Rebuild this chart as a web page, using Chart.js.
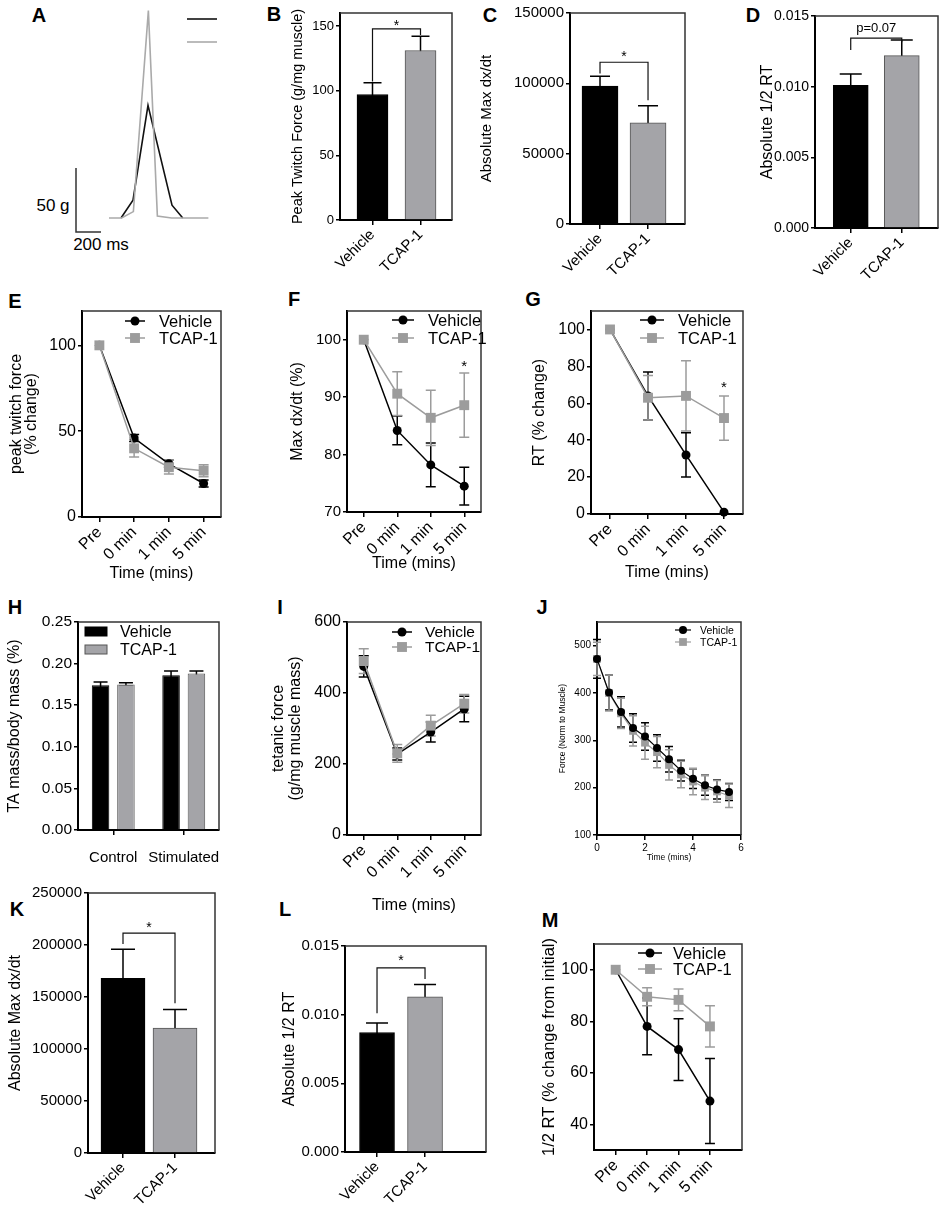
<!DOCTYPE html>
<html><head><meta charset="utf-8">
<script src="https://cdn.jsdelivr.net/npm/chart.js@4.4.1/dist/chart.umd.min.js"></script>
<style>
html,body{margin:0;padding:0;background:#fff;}
body{position:relative;width:941px;height:1214px;overflow:hidden;font-family:"Liberation Sans",Arial,Helvetica,sans-serif;color:#000;}
.pl{position:absolute;font-weight:bold;font-size:20px;line-height:1;transform:translate(-50%,-50%);}
.tx{position:absolute;font-size:17px;line-height:1;transform:translate(-50%,-50%);white-space:nowrap;}
</style></head><body>
<div class="pl" style="left:39px;top:15px">A</div>
<div class="pl" style="left:274px;top:14px">B</div>
<div class="pl" style="left:490px;top:15px">C</div>
<div class="pl" style="left:753px;top:15px">D</div>
<div class="pl" style="left:15px;top:301px">E</div>
<div class="pl" style="left:294px;top:299px">F</div>
<div class="pl" style="left:533px;top:299px">G</div>
<div class="pl" style="left:15px;top:607px">H</div>
<div class="pl" style="left:280px;top:607px">I</div>
<div class="pl" style="left:542px;top:607px">J</div>
<div class="pl" style="left:17px;top:909px">K</div>
<div class="pl" style="left:285px;top:909px">L</div>
<div class="pl" style="left:550px;top:920px">M</div>
<div class="tx" style="left:53px;top:205px">50 g</div>
<div class="tx" style="left:101px;top:244px">200 ms</div>
<script>
// ---------------- DATA ----------------
const groups = ['Vehicle', 'TCAP-1'];
const timeLabels = ['Pre', '0 min', '1 min', '5 min'];

// A: representative twitch traces (ms, g) and scale bar (200 ms / 50 g)
const A_timeVeh = [96, 192, 312, 504, 590];
const A_forceVeh = [0, 14, 88, 10, 0];
const A_timeTcap = [0, 101, 195, 315, 387, 501, 795];
const A_forceTcap = [0, 0, 5, 162, 1.6, 0, 0];
const A_scaleBarX = [-264, -264, -64];
const A_scaleBarY = [39, -11, -11];

// B: peak twitch force
const B_mean = [97, 131];
const B_sem = [9, 11];
const B_yTicks = [0, 50, 100, 150];

// C: absolute max dx/dt
const C_mean = [98000, 72000];
const C_sem = [7000, 12000];
const C_yTicks = [0, 50000, 100000, 150000];

// D: absolute 1/2 RT
const D_mean = [0.0101, 0.0122];
const D_sem = [0.0008, 0.0011];
const D_yTicks = [0, 0.005, 0.010, 0.015];

// E: peak twitch force (% change)
const E_veh = [100, 46, 31, 19.5];
const E_vehSem = [0, 2, 2, 2];
const E_tcap = [100, 40, 29, 27];
const E_tcapSem = [0, 5, 4, 3.5];
const E_yTicks = [0, 50, 100];

// F: max dx/dt (%)
const F_veh = [100, 84.2, 78.2, 74.5];
const F_vehSem = [0, 2.5, 3.8, 3.3];
const F_tcap = [100, 90.6, 86.4, 88.6];
const F_tcapSem = [0, 3.8, 4.8, 5.6];
const F_yTicks = [70, 80, 90, 100];

// G: RT (% change)
const G_veh = [100, 64, 32, 1];
const G_vehSem = [0, 13, 12, 0];
const G_tcap = [100, 63, 64, 52];
const G_tcapSem = [0, 12, 19, 12];
const G_yTicks = [0, 20, 40, 60, 80, 100];

// H: TA mass / body mass
const H_groups = ['Control', 'Stimulated'];
const H_veh = [0.174, 0.186];
const H_vehSem = [0.004, 0.005];
const H_tcap = [0.175, 0.188];
const H_tcapSem = [0.002, 0.003];
const H_yTicks = [0, 0.05, 0.10, 0.15, 0.20, 0.25];

// I: tetanic force
const I_veh = [475, 228, 290, 355];
const I_vehSem = [30, 17, 28, 36];
const I_tcap = [490, 230, 308, 370];
const I_tcapSem = [35, 25, 29, 26];
const I_yTicks = [0, 200, 400, 600];

// J: force over time
const J_time = [0, 0.5, 1, 1.5, 2, 2.5, 3, 3.5, 4, 4.5, 5, 5.5];
const J_veh = [472, 401, 360, 326, 308, 284, 260, 236, 219, 205, 196, 191];
const J_vehSem = [41, 37, 32, 30, 29, 28, 27, 22, 21, 21, 20, 18];
const J_tcap = [472, 400, 357, 320, 295, 275, 248, 228, 213, 200, 192, 183];
const J_tcapSem = [35, 38, 32, 32, 35, 33, 32, 28, 28, 25, 23, 25];
const J_yTicks = [100, 200, 300, 400, 500];
const J_xTicks = [0, 2, 4, 6];

// K: absolute max dx/dt
const K_mean = [168000, 120000];
const K_sem = [28000, 18000];
const K_yTicks = [0, 50000, 100000, 150000, 200000, 250000];

// L: absolute 1/2 RT
const L_mean = [0.0087, 0.0113];
const L_sem = [0.0007, 0.0009];
const L_yTicks = [0, 0.005, 0.010, 0.015];

// M: 1/2 RT (% change from initial)
const M_veh = [100, 78, 69, 49];
const M_vehSem = [0, 11, 12, 16.5];
const M_tcap = [100, 89.5, 88.3, 78];
const M_tcapSem = [0, 3.5, 4.2, 8];
const M_yTicks = [40, 60, 80, 100];

// ---------------- STYLE / HELPERS ----------------
Chart.defaults.font.family = '"Liberation Sans", Arial, Helvetica, sans-serif';
Chart.defaults.color = '#000';
const BLACK = '#000', GRAY = '#9c9c9c', BARGRAY = '#a4a4a8';

const decorPlugin = {
  id: 'decor',
  beforeDatasetsDraw(chart) {
    const ctx = chart.ctx;
    chart.data.datasets.forEach((ds, i) => {
      if (!ds.errorBars) return;
      const meta = chart.getDatasetMeta(i);
      const ys = chart.scales[meta.yAxisID];
      ctx.save();
      ctx.strokeStyle = ds.errorColor || '#000';
      ctx.lineWidth = ds.errorWidth || 1.5;
      meta.data.forEach((el, j) => {
        const e = ds.errorBars[j];
        if (!e) return;
        const raw = ds.data[j];
        const v = (raw !== null && typeof raw === 'object') ? raw.y : raw;
        const yt = ys.getPixelForValue(v + e), yb = ys.getPixelForValue(v - e);
        const x = el.x, h = ds.capHalf || 5;
        ctx.beginPath();
        ctx.moveTo(x, yt); ctx.lineTo(x, yb);
        ctx.moveTo(x - h, yt); ctx.lineTo(x + h, yt);
        ctx.moveTo(x - h, yb); ctx.lineTo(x + h, yb);
        ctx.stroke();
      });
      ctx.restore();
    });
  },
  afterDraw(chart) {
    const d = chart.canvas._decor || {};
    const ctx = chart.ctx, a = chart.chartArea;
    ctx.save();
    if (d.frame) {
      ctx.strokeStyle = '#333'; ctx.lineWidth = 1.5;
      ctx.beginPath();
      ctx.moveTo(a.left, a.top); ctx.lineTo(a.right, a.top); ctx.lineTo(a.right, a.bottom);
      ctx.stroke();
    }
    (d.marks || []).forEach(b => {
      const xs = chart.scales.x, ys = chart.scales.y;
      const x1 = xs.getPixelForValue(b.x1);
      const x2 = xs.getPixelForValue(b.x2 !== undefined ? b.x2 : b.x1);
      if (b.y !== undefined) {
        const y = ys.getPixelForValue(b.y);
        ctx.strokeStyle = '#111'; ctx.lineWidth = 1.2;
        ctx.beginPath();
        ctx.moveTo(x1, ys.getPixelForValue(b.y1)); ctx.lineTo(x1, y);
        ctx.lineTo(x2, y); ctx.lineTo(x2, ys.getPixelForValue(b.y2));
        ctx.stroke();
      }
      ctx.fillStyle = '#000';
      ctx.font = (b.font || 14) + 'px "Liberation Sans", Arial, sans-serif';
      ctx.textAlign = 'center'; ctx.textBaseline = 'middle';
      ctx.fillText(b.text, (x1 + x2) / 2, ys.getPixelForValue(b.ty) + (b.text === '*' ? 3 : 0));
    });
    const L = d.legend;
    if (L) {
      L.items.forEach((di, k) => {
        const ds = chart.data.datasets[di];
        const cx = a.left + L.x, cy = a.top + L.y + k * L.dy;
        if (L.box) {
          ctx.fillStyle = ds.backgroundColor;
          ctx.fillRect(cx - L.w / 2, cy - L.h / 2, L.w, L.h);
          ctx.strokeStyle = ds.borderColor; ctx.lineWidth = 1;
          ctx.strokeRect(cx - L.w / 2, cy - L.h / 2, L.w, L.h);
        } else {
          ctx.strokeStyle = ds.borderColor; ctx.lineWidth = ds.borderWidth || 1.5;
          ctx.beginPath(); ctx.moveTo(cx - L.half, cy); ctx.lineTo(cx + L.half, cy); ctx.stroke();
          if (ds.pointRadius) {
            ctx.fillStyle = ds.backgroundColor;
            ctx.beginPath();
            if (ds.pointStyle === 'rect') {
              const s = Math.SQRT1_2 * ds.pointRadius;
              ctx.rect(cx - s, cy - s, 2 * s, 2 * s);
            } else {
              ctx.arc(cx, cy, ds.pointRadius, 0, Math.PI * 2);
            }
            ctx.fill();
          }
        }
        if (!L.noText) {
          ctx.fillStyle = '#000';
          ctx.font = L.font + 'px "Liberation Sans", Arial, sans-serif';
          ctx.textAlign = 'left'; ctx.textBaseline = 'middle';
          ctx.fillText(ds.label, a.left + L.tx, cy + 1);
        }
      });
    }
    ctx.restore();
  }
};
Chart.register(decorPlugin);

function pts(xs, ys) { return xs.map((x, i) => ({ x, y: ys[i] })); }
function idx(ys) { return ys.map((y, i) => ({ x: i, y })); }

const gridStyle = (len, off) => ({ display: true, drawOnChartArea: false, drawTicks: true, tickLength: len, color: '#000', lineWidth: 1.5, offset: off });
const borderStyle = { display: true, color: '#000', width: 2 };

function yAx(o) {
  return {
    type: 'linear', min: o.min, max: o.max, bounds: 'data',
    afterBuildTicks: s => { s.ticks = o.ticks.map(v => ({ value: v })); },
    ticks: { autoSkip: false, color: '#000', font: { size: o.size }, padding: 2, callback: o.fmt || (v => String(v)) },
    grid: gridStyle(4, false), border: borderStyle,
    title: { display: true, text: o.title, color: '#000', font: { size: o.tsize, lineHeight: o.lh || 1.2 }, padding: { top: 0, bottom: 0 } }
  };
}
function xTitle(o) {
  return o.title ? { display: true, text: o.title, color: '#000', font: { size: o.tsize }, padding: { top: 0, bottom: 0 } } : { display: false };
}
function xCat(o) {
  const rot = o.rot === undefined ? 45 : o.rot;
  return {
    type: 'category', offset: true,
    ticks: { autoSkip: false, minRotation: rot, maxRotation: rot, color: '#000', font: { size: o.size }, padding: o.pad === undefined ? 1 : o.pad },
    grid: gridStyle(5, false), border: borderStyle, title: xTitle(o)
  };
}
function xLin(o) {
  const rot = o.rot === undefined ? 45 : o.rot;
  return {
    type: 'linear', min: o.min, max: o.max, bounds: 'data', offset: false,
    afterBuildTicks: s => { s.ticks = o.ticks.map(v => ({ value: v })); },
    ticks: { autoSkip: false, minRotation: rot, maxRotation: rot, color: '#000', font: { size: o.size }, padding: o.pad === undefined ? 1 : o.pad,
      callback: o.labels ? (v => o.labels[v]) : (v => String(v)) },
    grid: gridStyle(5, false), border: borderStyle, title: xTitle(o)
  };
}

function mk(p) {
  const [bl, bt, bw, bh] = p.box;
  const c = document.createElement('canvas');
  c.width = bw; c.height = bh;
  c.style.cssText = 'position:absolute;left:' + bl + 'px;top:' + bt + 'px;width:' + bw + 'px;height:' + bh + 'px';
  c._decor = p.decor || {};
  document.body.appendChild(c);
  const o = p.options;
  o.responsive = false; o.animation = false;
  o.plugins = Object.assign({ legend: { display: false }, tooltip: { enabled: false } }, o.plugins || {});
  if (p.plot) {
    const [pl, pt, pr, pb] = p.plot;
    o.layout = { padding: { left: 0, top: pt - bt, right: bl + bw - pr, bottom: 0 } };
    const xH = bt + bh - pb, yW = pl - bl;
    o.scales.x.afterFit = s => { s.height = xH; s.paddingLeft = 0; s.paddingRight = 0; };
    o.scales.y.afterFit = s => { s.width = yW; s.paddingTop = 0; s.paddingBottom = 0; };
  } else {
    o.layout = { padding: 0 };
  }
  return new Chart(c, { type: p.type, data: p.data, options: o });
}

function barDS(means, sem, thick, cap) {
  return { data: idx(means), backgroundColor: [BLACK, BARGRAY], borderColor: ['#000', '#555'], borderWidth: 1,
    barThickness: thick, errorBars: sem, errorColor: '#000', capHalf: cap };
}
function vehDS(data, sem, o) {
  o = o || {};
  return { label: 'Vehicle', data, borderColor: BLACK, backgroundColor: BLACK, borderWidth: o.lw || 1.5,
    pointStyle: 'circle', pointRadius: o.r || 4.5, pointHoverRadius: o.r || 4.5, pointBorderWidth: 0,
    pointBackgroundColor: BLACK, errorBars: sem, errorColor: BLACK, capHalf: o.cap || 5,
    order: o.order === undefined ? 1 : o.order, clip: false, tension: 0, fill: false };
}
function tcapDS(data, sem, o) {
  o = o || {};
  return { label: 'TCAP-1', data, borderColor: GRAY, backgroundColor: GRAY, borderWidth: o.lw || 1.5,
    pointStyle: 'rect', pointRadius: o.r || 7, pointHoverRadius: o.r || 7, pointBorderWidth: 0,
    pointBackgroundColor: GRAY, errorBars: sem, errorColor: GRAY, capHalf: o.cap || 5,
    order: o.order === undefined ? 0 : o.order, clip: false, tension: 0, fill: false };
}

// ---------------- PANELS ----------------
// A
mk({ box: [69, 0, 160, 240], type: 'scatter',
  data: { datasets: [
    { label: 'Vehicle', data: pts(A_timeVeh, A_forceVeh), showLine: true, borderColor: '#111', borderWidth: 1.6, pointRadius: 0, order: 1 },
    { label: 'TCAP-1', data: pts(A_timeTcap, A_forceTcap), showLine: true, borderColor: '#aaa', borderWidth: 1.6, pointRadius: 0, order: 0 },
    { label: 'scale', data: pts(A_scaleBarX, A_scaleBarY), showLine: true, borderColor: '#333', borderWidth: 1.5, pointRadius: 0, order: 2 }
  ] },
  options: { scales: { x: { type: 'linear', display: false, min: -320, max: 960 }, y: { type: 'linear', display: false, min: -17.19, max: 170.31 } } },
  decor: { legend: { items: [0, 1], x: 133, y: 19, dy: 23, half: 15, noText: true } }
});

// B
mk({ box: [289, 0, 171, 285], plot: [340, 13, 452, 220], type: 'bar',
  data: { datasets: [barDS(B_mean, B_sem, 31, 9)] },
  options: { scales: {
    x: xLin({ min: -0.677, max: 1.656, ticks: [0, 1], labels: groups, size: 15 }),
    y: yAx({ min: 0, max: 160, ticks: B_yTicks, size: 13, title: 'Peak Twitch Force (g/mg muscle)', tsize: 14.5 }) } },
  decor: { frame: true, marks: [{ x1: 0, x2: 1, y: 147.7, y1: 107, y2: 143, text: '*', ty: 152, font: 14 }] }
});

// C
mk({ box: [478, 0, 215, 290], plot: [570, 13, 685, 224], type: 'bar',
  data: { datasets: [barDS(C_mean, C_sem, 36, 10)] },
  options: { scales: {
    x: xLin({ min: -0.625, max: 1.77, ticks: [0, 1], labels: groups, size: 15 }),
    y: yAx({ min: 0, max: 150000, ticks: C_yTicks, size: 15, title: 'Absolute Max dx/dt', tsize: 15 }) } },
  decor: { frame: true, marks: [{ x1: 0, x2: 1, y: 115000, y1: 107000, y2: 88000, text: '*', ty: 121000, font: 14 }] }
});

// D
mk({ box: [758, 0, 183, 290], plot: [815, 16, 938, 228], type: 'bar',
  data: { datasets: [barDS(D_mean, D_sem, 35, 11)] },
  options: { scales: {
    x: xLin({ min: -0.70, max: 1.71, ticks: [0, 1], labels: groups, size: 15 }),
    y: yAx({ min: 0, max: 0.015, ticks: D_yTicks, fmt: v => v.toFixed(3), size: 14, title: 'Absolute 1/2 RT', tsize: 16 }) } },
  decor: { frame: true, marks: [{ x1: 0, x2: 1, y: 0.01344, y1: 0.0126, y2: 0.01315, text: 'p=0.07', ty: 0.0141, font: 13 }] }
});

// E
mk({ box: [9, 296, 221, 287], plot: [82, 311, 221, 517], type: 'line',
  data: { labels: timeLabels, datasets: [vehDS(E_veh, E_vehSem), tcapDS(E_tcap, E_tcapSem)] },
  options: { scales: {
    x: xCat({ size: 16, title: 'Time (mins)', tsize: 16 }),
    y: yAx({ min: 0, max: 120, ticks: E_yTicks, size: 16, title: ['peak twitch force', '(% change)'], tsize: 16, lh: 0.95 }) } },
  decor: { frame: true, legend: { items: [0, 1], x: 53, y: 10, dy: 17, half: 10, tx: 77, font: 16.5 } }
});

// F
mk({ box: [288, 296, 202, 277], plot: [347, 311, 481, 512], type: 'line',
  data: { labels: timeLabels, datasets: [vehDS(F_veh, F_vehSem), tcapDS(F_tcap, F_tcapSem)] },
  options: { scales: {
    x: xCat({ size: 16, title: 'Time (mins)', tsize: 16 }),
    y: yAx({ min: 70, max: 105, ticks: F_yTicks, size: 15, title: 'Max dx/dt (%)', tsize: 16 }) } },
  decor: { frame: true, legend: { items: [0, 1], x: 56, y: 9, dy: 18, half: 11, tx: 81, font: 16.5 },
    marks: [{ x1: 3, text: '*', ty: 95.8, font: 15 }] }
});

// G
mk({ box: [530, 296, 222, 286], plot: [591, 311, 743, 514], type: 'line',
  data: { labels: timeLabels, datasets: [vehDS(G_veh, G_vehSem), tcapDS(G_tcap, G_tcapSem)] },
  options: { scales: {
    x: xCat({ size: 16, title: 'Time (mins)', tsize: 16 }),
    y: yAx({ min: 0, max: 110, ticks: G_yTicks, size: 16, title: 'RT (% change)', tsize: 16 }) } },
  decor: { frame: true, legend: { items: [0, 1], x: 61, y: 9, dy: 18, half: 12, tx: 87, font: 16.5 },
    marks: [{ x1: 3, text: '*', ty: 70, font: 15 }] }
});

// H
mk({ box: [5, 607, 223, 263], plot: [78, 622, 219, 830], type: 'bar',
  data: { labels: H_groups, datasets: [
    { label: 'Vehicle', data: H_veh, backgroundColor: BLACK, borderColor: '#000', borderWidth: 1, errorBars: H_vehSem, errorColor: '#000', capHalf: 7, categoryPercentage: 0.72, barPercentage: 0.69 },
    { label: 'TCAP-1', data: H_tcap, backgroundColor: BARGRAY, borderColor: '#555', borderWidth: 1, errorBars: H_tcapSem, errorColor: '#000', capHalf: 7, categoryPercentage: 0.72, barPercentage: 0.69 }
  ] },
  options: { scales: {
    x: xCat({ size: 15, rot: 0, pad: 14 }),
    y: yAx({ min: 0, max: 0.25, ticks: H_yTicks, fmt: v => v.toFixed(2), size: 15.5, title: 'TA mass/body mass (%)', tsize: 16 }) } },
  decor: { frame: true, legend: { box: true, items: [0, 1], x: 18, y: 9.5, dy: 18, w: 22, h: 9, tx: 42, font: 16 } }
});

// I
mk({ box: [270, 607, 220, 308], plot: [347, 622, 481, 835], type: 'line',
  data: { labels: timeLabels, datasets: [vehDS(I_veh, I_vehSem), tcapDS(I_tcap, I_tcapSem)] },
  options: { scales: {
    x: xCat({ size: 16, title: 'Time (mins)', tsize: 16 }),
    y: yAx({ min: 0, max: 600, ticks: I_yTicks, size: 16, title: ['tetanic force', '(g/mg muscle mass)'], tsize: 16, lh: 1.0625 }) } },
  decor: { frame: true, legend: { items: [0, 1], x: 55, y: 10, dy: 15, half: 10, tx: 78, font: 15.5 } }
});

// J
mk({ box: [558, 610, 192, 253], plot: [597, 622, 741, 835], type: 'line',
  data: { datasets: [
    vehDS(pts(J_time, J_veh), J_vehSem, { r: 4, lw: 1.2, cap: 4, order: 0 }),
    tcapDS(pts(J_time, J_tcap), J_tcapSem, { r: 5.5, lw: 1.2, cap: 4, order: 1 })
  ] },
  options: { scales: {
    x: xLin({ min: 0, max: 6, ticks: J_xTicks, size: 10, rot: 0, pad: 2, title: 'Time (mins)', tsize: 8.5 }),
    y: yAx({ min: 100, max: 550, ticks: J_yTicks, size: 10, title: 'Force (Norm to Muscle)', tsize: 8.5 }) } },
  decor: { frame: true, legend: { items: [0, 1], x: 86, y: 8, dy: 12, half: 8, tx: 103, font: 10.5 } }
});

// K
mk({ box: [6, 878, 218, 336], plot: [88, 893, 215, 1153], type: 'bar',
  data: { datasets: [barDS(K_mean, K_sem, 44, 12)] },
  options: { scales: {
    x: xLin({ min: -0.673, max: 1.769, ticks: [0, 1], labels: groups, size: 15 }),
    y: yAx({ min: 0, max: 250000, ticks: K_yTicks, size: 15, title: 'Absolute Max dx/dt', tsize: 16 }) } },
  decor: { frame: true, marks: [{ x1: 0, x2: 1, y: 211500, y1: 201000, y2: 144000, text: '*', ty: 219000, font: 14 }] }
});

// L
mk({ box: [280, 931, 214, 283], plot: [345, 946, 486, 1152], type: 'bar',
  data: { datasets: [barDS(L_mean, L_sem, 35, 11)] },
  options: { scales: {
    x: xLin({ min: -0.667, max: 2.27, ticks: [0, 1], labels: groups, size: 15 }),
    y: yAx({ min: 0, max: 0.015, ticks: L_yTicks, fmt: v => v.toFixed(3), size: 15, title: 'Absolute 1/2 RT', tsize: 16 }) } },
  decor: { frame: true, marks: [{ x1: 0, x2: 1, y: 0.0134, y1: 0.0101, y2: 0.0126, text: '*', ty: 0.0141, font: 14 }] }
});

// M
mk({ box: [540, 929, 210, 285], plot: [594, 944, 742, 1150], type: 'line',
  data: { datasets: [vehDS(idx(M_veh), M_vehSem), tcapDS(idx(M_tcap), M_tcapSem)] },
  options: { scales: {
    x: xLin({ min: -0.69, max: 4.02, ticks: [0, 1, 2, 3], labels: timeLabels, size: 16 }),
    y: yAx({ min: 30, max: 110, ticks: M_yTicks, size: 16, title: '1/2 RT (% change from initial)', tsize: 16.5 }) } },
  decor: { frame: true, legend: { items: [0, 1], x: 56, y: 9, dy: 16, half: 12, tx: 79, font: 16.5 } }
});
</script>
</body></html>
